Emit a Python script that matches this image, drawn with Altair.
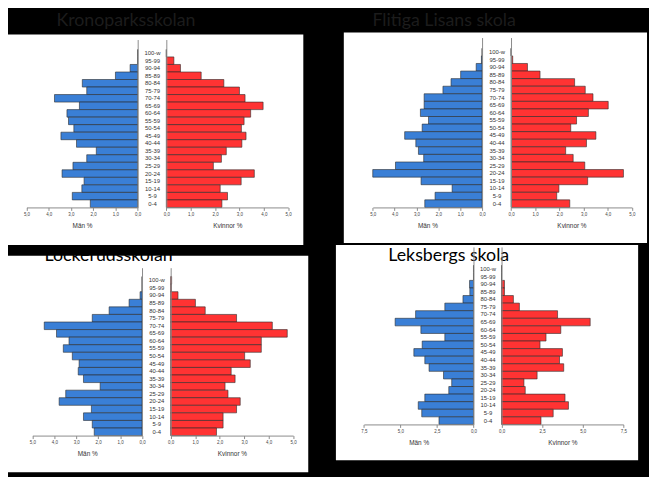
import altair as alt
import pandas as pd

# ---------------- data ----------------
ages = ["100-w", "95-99", "90-94", "85-89", "80-84", "75-79", "70-74", "65-69",
        "60-64", "55-59", "50-54", "45-49", "40-44", "35-39", "30-34", "25-29",
        "20-24", "15-19", "10-14", "5-9", "0-4"]

krono_men = [0, 0, 0.34, 1.0, 2.49, 2.29, 3.74, 2.62, 3.18, 3.11, 2.87, 3.45, 2.75,
             1.86, 2.29, 2.91, 3.40, 2.41, 2.51, 2.94, 2.13]
krono_women = [0, 0.31, 0.58, 1.43, 2.36, 3.0, 3.23, 3.97, 3.46, 3.19, 3.08, 3.27, 3.10,
               2.46, 2.26, 1.93, 3.61, 3.07, 2.21, 2.51, 2.28]
flit_men = [0, 0.03, 0.27, 0.98, 1.42, 1.79, 2.65, 2.65, 2.82, 2.45, 2.74, 3.54, 3.03,
            2.91, 2.67, 3.96, 5.0, 2.79, 1.37, 2.15, 2.62]
flit_women = [0, 0.07, 0.68, 1.2, 2.63, 3.07, 3.39, 4.02, 3.2, 2.71, 2.47, 3.51, 3.12,
              2.26, 2.57, 3.05, 4.65, 3.17, 1.98, 1.89, 2.43]
lock_men = [0, 0, 0.09, 0.59, 1.5, 2.27, 4.46, 3.9, 3.33, 3.59, 3.18, 2.87, 2.91,
            2.67, 1.91, 3.48, 3.78, 2.31, 2.67, 2.27, 2.18]
lock_women = [0.04, 0.03, 0.3, 1.01, 1.41, 2.69, 4.15, 4.76, 3.7, 3.7, 3.02, 3.25, 2.47,
              2.63, 2.22, 2.34, 2.84, 2.69, 2.14, 2.14, 1.87]
leks_men = [0, 0, 0.27, 0.25, 0.72, 1.96, 3.96, 5.36, 3.6, 1.96, 3.51, 4.08, 3.33,
            3.04, 2.05, 1.49, 1.69, 3.33, 3.78, 3.54, 2.36]
leks_women = [0, 0, 0.18, 0.18, 0.73, 1.1, 3.45, 5.46, 3.65, 2.74, 2.37, 3.75, 3.57,
              3.83, 2.19, 1.38, 1.46, 3.91, 4.12, 3.18, 2.43]

titles = ["Kronoparksskolan", "Flitiga Lisans skola", "Lockerudsskolan", "Leksbergs skola"]
ticks_5 = [0, 1, 2, 3, 4, 5]
ticks_75 = [0, 2.5, 5, 7.5]
men_label = "Män %"
women_label = "Kvinnor %"

# ---------------- layout (pixels in page coordinates) ----------------
OFF = 8
W, H = 649, 469
BLUE = "#3a7fd6"
RED = "#ff3333"
AXC = "#8a8a8a"
FONT = "Liberation Sans"

panels = [
    dict(title=titles[0], men=krono_men, women=krono_women, xmax=5.0, ticks=ticks_5,
         lx=(26.7, 139.3), rx=(168.3, 291.7), ytop=37, yband=47, ybot=207,
         box=(0, 32, 307, 245), tpos=(57, 23), tcol="#1c1c1c"),
    dict(title=titles[1], men=flit_men, women=flit_women, xmax=5.0, ticks=ticks_5,
         lx=(377.3, 488.0), rx=(517.3, 639.7), ytop=35, yband=45.9, ybot=207,
         box=(348, 30, 655, 243), tpos=(377, 23), tcol="#1c1c1c"),
    dict(title=titles[2], men=lock_men, women=lock_women, xmax=5.0, ticks=ticks_5,
         lx=(32.7, 143.7), rx=(172.7, 296.7), ytop=268, yband=277, ybot=438,
         box=(5, 256, 312, 475), tpos=(45, 261), tcol="#000000"),
    dict(title=titles[3], men=leks_men, women=leks_women, xmax=7.5, ticks=ticks_75,
         lx=(368.3, 479.3), rx=(507.7, 631.0), ytop=247, yband=265.5, ybot=426.7,
         box=(340, 245, 646, 463), tpos=(393, 261), tcol="#000000"),
]

label_expr = "replace(format(datum.value, '.1f'), '.', ',')"
dummy = pd.DataFrame({"k": [0]})

layers = []
# white panel backgrounds
for p in panels:
    x0, y0, x1, y1 = p["box"]
    layers.append(
        alt.Chart(dummy).mark_rect(color="white").encode(
            x=alt.value(max(x0 - OFF, 0)), x2=alt.value(x1 - OFF),
            y=alt.value(y0 - OFF), y2=alt.value(y1 - OFF))
    )

for p in panels:
    df = pd.DataFrame({"age": ages, "men": p["men"], "women": p["women"]})
    d = p["yband"] - p["ytop"]
    step = (p["ybot"] - p["yband"]) / len(ages)
    domain = list(ages)
    k = 0
    while d / step / 2.0 > 0.95:
        k += 1
        domain = [" " * k] + domain
        d -= step
    pad_outer = d / step / 2.0
    yscale = alt.Scale(domain=domain, range=[p["ytop"] - OFF, p["ybot"] - OFF],
                       paddingInner=0, paddingOuter=pad_outer, align=1, round=False)
    xoff = (p["ybot"] - OFF) - H
    common_x_axis = dict(orient="bottom", offset=xoff, values=p["ticks"], labelExpr=label_expr,
                         labelFontSize=4.5, labelFont=FONT, labelColor="#444", labelPadding=1.5,
                         tickSize=3, tickColor=AXC, domainColor=AXC, domainWidth=1, grid=False,
                         titleFontSize=6.5, titleFont=FONT, titleFontWeight="normal",
                         titleColor="#333", titlePadding=6, labelFlush=False, zindex=2)
    left = alt.Chart(df).mark_bar(color=BLUE, stroke="#2a2a2a", strokeWidth=0.6).encode(
        x=alt.X("men:Q",
                scale=alt.Scale(domain=[0, p["xmax"]], range=[p["lx"][1] - OFF, p["lx"][0] - OFF],
                                nice=False),
                axis=alt.Axis(title=men_label, **common_x_axis)),
        y=alt.Y("age:N", scale=yscale, sort=domain,
                axis=alt.Axis(orient="right", offset=(p["lx"][1] - OFF) - W, title=None,
                              ticks=False, tickSize=0, labelAlign="center",
                              labelPadding=(p["rx"][0] - p["lx"][1]) / 2.0,
                              labelFontSize=6, labelFont=FONT, labelColor="#333",
                              domainColor=AXC, domainWidth=1, grid=False, zindex=2)),
    )
    right = alt.Chart(df).mark_bar(color=RED, stroke="#2a2a2a", strokeWidth=0.6).encode(
        x=alt.X("women:Q",
                scale=alt.Scale(domain=[0, p["xmax"]], range=[p["rx"][0] - OFF, p["rx"][1] - OFF],
                                nice=False),
                axis=alt.Axis(title=women_label, **common_x_axis)),
        y=alt.Y("age:N", scale=yscale, sort=domain,
                axis=alt.Axis(orient="left", offset=-(p["rx"][0] - OFF), title=None,
                              ticks=False, labels=False, domainColor=AXC, domainWidth=1,
                              grid=False, zindex=2)),
    )
    layers += [left, right]

# panel titles
for p in panels:
    tx, ty = p["tpos"]
    layers.append(
        alt.Chart(pd.DataFrame({"t": [p["title"]]})).mark_text(
            align="left", baseline="alphabetic", font="Lato", fontSize=18, color=p["tcol"]
        ).encode(text="t:N", x=alt.value(tx - OFF), y=alt.value(ty - OFF))
    )

chart = alt.layer(*layers).resolve_scale(x="independent", y="independent").resolve_axis(
    x="independent", y="independent"
).properties(
    width=W, height=H, padding=0, autosize=alt.AutoSizeParams(type="none")
).configure(background="black").configure_view(strokeWidth=0)

chart.save("out.html", embed_options={"renderer": "svg", "actions": False})
